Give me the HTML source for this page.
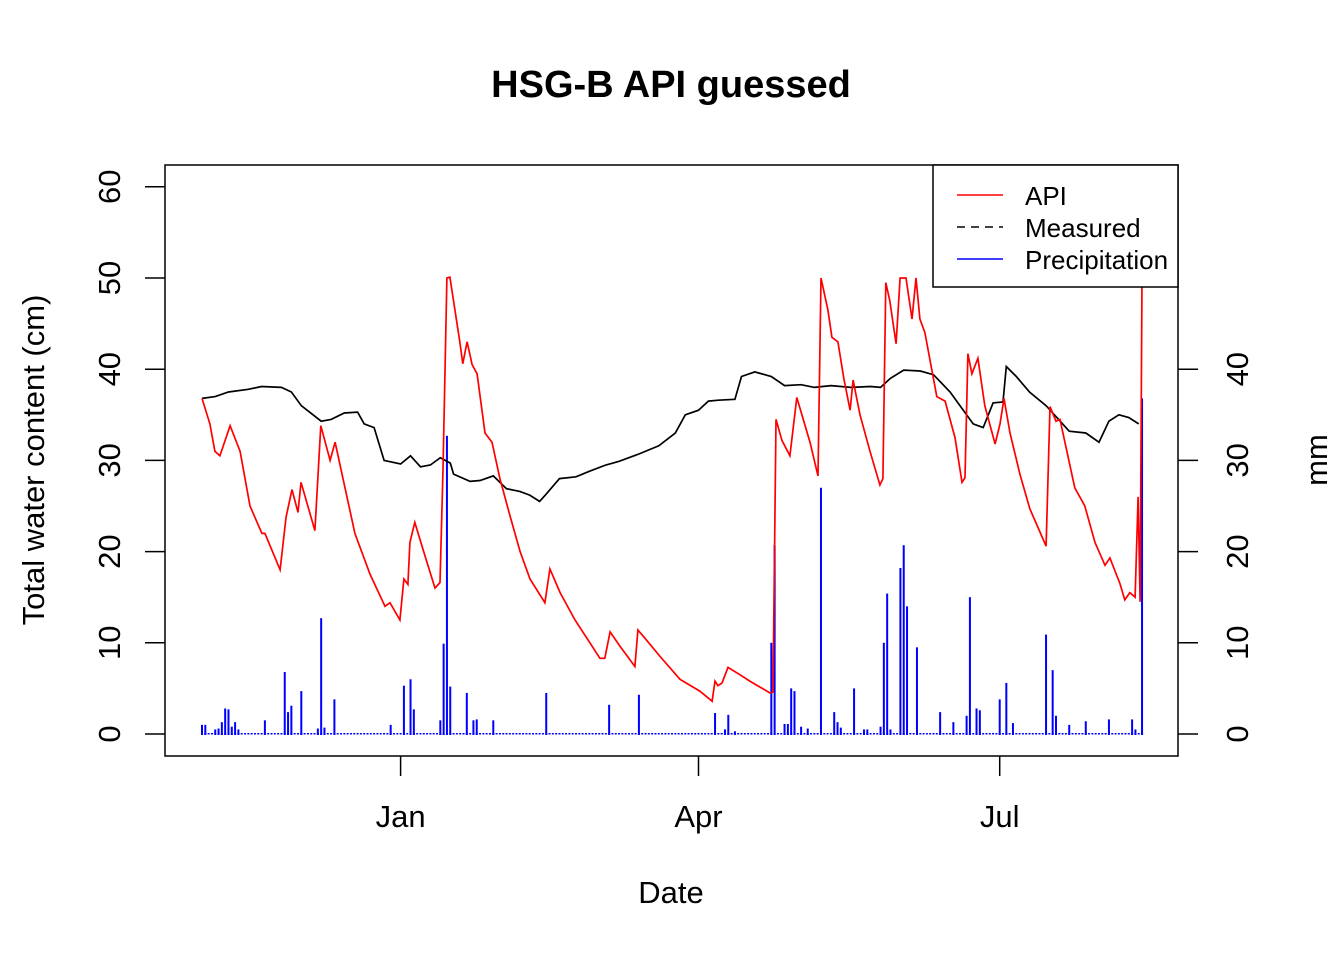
<!DOCTYPE html>
<html><head><meta charset="utf-8"><style>
body{margin:0;background:#fff}
svg text{font-family:"Liberation Sans",Arial,sans-serif}
</style></head><body>
<svg id="chart" width="1344" height="960" viewBox="0 0 1344 960" xmlns="http://www.w3.org/2000/svg">
<rect width="1344" height="960" fill="#fff"/>
<text x="671" y="97" font-size="38" font-weight="bold" text-anchor="middle">HSG-B API guessed</text>
<rect x="165" y="165" width="1013" height="591" fill="none" stroke="#000" stroke-width="1.5"/>
<g id="precip"></g>
<g id="lines"></g>
<g id="axes"></g>
<text x="671" y="903" font-size="31" text-anchor="middle">Date</text>
<text transform="translate(44,460) rotate(-90)" font-size="31" text-anchor="middle">Total water content (cm)</text>
<text transform="translate(1327,460) rotate(-90)" font-size="31" text-anchor="middle">mm</text>
<g>
<rect x="933" y="165" width="245" height="122" fill="#fff" stroke="#000" stroke-width="1.5"/>
<line x1="957" y1="195" x2="1003" y2="195" stroke="red" stroke-width="1.5"/>
<text x="1025" y="205" font-size="26">API</text>
<line x1="957" y1="227" x2="1003" y2="227" stroke="#000" stroke-width="1.5" stroke-dasharray="8,6"/>
<text x="1025" y="237" font-size="26">Measured</text>
<line x1="957" y1="259" x2="1003" y2="259" stroke="blue" stroke-width="1.5"/>
<text x="1025" y="269" font-size="26">Precipitation</text>
</g>
</svg>
<script>
const measDays=[0,4,8,14,18,24,27,30,36,39,43,47,49,52,55,60,63,66,69,72,75,76,81,84,88,92,96,99,102,104,108,113,117,122,126,132,138,143,146,150,153,156,161,163,167,172,176,181,185,190,196,202,205,208,212,217,221,226,230,233,236,239,242,243,246,250,255,258,262,267,271,274,277,280,283];
const measVals=[36.8,37.0,37.5,37.8,38.1,38.0,37.5,36,34.3,34.5,35.2,35.3,34,33.6,30,29.6,30.5,29.3,29.5,30.3,29.7,28.5,27.7,27.8,28.3,26.9,26.6,26.2,25.5,26.3,28,28.2,28.8,29.5,29.9,30.7,31.6,33,35,35.5,36.5,36.6,36.7,39.2,39.7,39.2,38.2,38.3,38.0,38.2,38.0,38.1,38.0,39,39.9,39.8,39.4,37.5,35.5,34,33.6,36.3,36.4,40.3,39.2,37.5,36,34.8,33.2,33,32,34.3,35,34.7,34];
const apiDays=[0,2.4,3.9,5.4,8.5,11.5,14.5,18.1,19.0,23.6,25.4,27.2,29.0,29.9,34.1,35.9,38.7,40.2,43.2,46.2,50.8,55.3,56.8,59.8,61.0,62.2,62.8,64.3,67.4,70.4,71.9,72.8,74.0,74.9,77.9,78.8,80.1,81.6,83.1,85.5,87.6,90.0,93.0,96.1,99.1,103.6,105.1,108.2,112.7,117.2,120.2,121.7,123.3,126.3,130.8,131.7,133.8,138.4,144.4,150.4,154.1,155.0,155.9,157.1,158.9,162.5,165.5,171.6,172.5,173.4,175.2,177.6,179.7,183.7,186.1,187.0,189.1,190.3,192.1,193.9,195.8,196.7,198.8,201.8,204.8,205.7,206.6,207.8,209.7,210.9,212.7,214.5,215.7,216.9,218.4,222.0,224.5,227.5,229.6,230.5,231.4,232.6,234.4,236.5,239.6,241.1,242.3,244.1,247.1,250.1,255.0,256.2,258.0,259.2,260.7,263.7,266.7,269.8,272.8,274.3,277.3,278.8,280.3,281.9,282.8,283.4,284.0];
const apiVals=[36.8,34,31,30.5,33.8,31,25,22,22,18,23.8,26.8,24.3,27.6,22.3,33.8,30,32,27,22,17.5,14,14.4,12.5,17,16.4,21,23.2,19.5,16,16.6,29,50,50.1,43,40.6,43,40.5,39.5,33,32,28,24,20,17,14.4,18.1,15.5,12.5,10,8.3,8.3,11.2,9.6,7.4,11.4,10.5,8.5,6,4.7,3.6,5.8,5.3,5.6,7.3,6.5,5.8,4.5,4.6,34.5,32.2,30.5,36.9,32,28.3,50,46.5,43.5,43,39,35.5,38.8,35,31,27.3,28,49.5,47.5,42.8,50,50,45.5,50,45.5,44,37,36.5,32.5,27.6,28.1,41.7,39.5,41.2,36,31.8,34,36.8,33,28.5,24.7,20.6,35.9,34.3,34.5,32,27,25,21,18.5,19.3,16.5,14.7,15.5,15,26,14.5,50];
const precDays=[0,1,4,5,6,7,8,9,10,11,19,25,26,27,30,35,36,37,40,57,61,63,64,72,73,74,75,80,82,83,88,104,123,132,155,158,159,161,172,173,176,177,178,179,181,183,187,191,192,193,197,200,201,205,206,207,208,211,212,213,216,223,227,231,232,234,235,241,243,245,255,257,258,262,267,274,281,282,284];
const precVals=[1,1,0.5,0.6,1.3,2.8,2.7,0.8,1.3,0.5,1.5,6.8,2.4,3.1,4.7,0.6,12.7,0.7,3.8,1,5.3,6,2.7,1.5,9.9,32.7,5.2,4.5,1.5,1.6,1.5,4.5,3.2,4.3,2.3,0.5,2.1,0.3,10,20.7,1.1,1.1,5,4.7,0.8,0.6,27,2.4,1.3,0.7,5,0.5,0.5,0.8,10,15.4,0.5,18.2,20.7,14,9.5,2.4,1.3,2,15,2.8,2.6,3.8,5.6,1.2,10.9,7,2,1,1.4,1.6,1.6,0.5,36.8];
const yTicks=[0,10,20,30,40,50,60];
const y2Ticks=[0,10,20,30,40];
const xTickDays=[60,150,241];
const xTickLabels=["Jan","Apr","Jul"];
const totalDays=284;

const NS="http://www.w3.org/2000/svg";
const X=d=>202+d*3.31;
const Y=v=>734-v*9.12;
function mk(tag,attrs,parent){const e=document.createElementNS(NS,tag);for(const k in attrs)e.setAttribute(k,attrs[k]);parent.appendChild(e);return e;}
const P=document.getElementById('precip'),L=document.getElementById('lines'),A=document.getElementById('axes');
for(let d=0;d<=totalDays;d++){const r=mk('rect',{x:X(d)-1,y:733,width:2,height:1.5,fill:'blue'},P);

}
precDays.forEach((d,i)=>{const r=mk('rect',{x:X(d)-1,y:Y(precVals[i]),width:2,height:734-Y(precVals[i])+1,fill:'blue'},P);

});
const pl=(ds,vs)=>ds.map((d,i)=>X(d).toFixed(1)+','+Y(vs[i]).toFixed(1)).join(' ');
const m=mk('polyline',{points:pl(measDays,measVals),fill:'none',stroke:'#000','stroke-width':1.7},L);


const a=mk('polyline',{points:pl(apiDays,apiVals),fill:'none',stroke:'red','stroke-width':1.7},L);


yTicks.forEach(v=>{const t=mk('line',{x1:145,x2:165,y1:Y(v),y2:Y(v),stroke:'#000','stroke-width':1.5},A);


const tx=mk('text',{transform:`translate(120,${Y(v)}) rotate(-90)`,'font-size':31,'text-anchor':'middle'},A);tx.textContent=v;

});
y2Ticks.forEach(v=>{const t=mk('line',{x1:1178,x2:1198,y1:Y(v),y2:Y(v),stroke:'#000','stroke-width':1.5},A);


const tx=mk('text',{transform:`translate(1248,${Y(v)}) rotate(-90)`,'font-size':31,'text-anchor':'middle'},A);tx.textContent=v;

});
xTickDays.forEach((d,i)=>{const t=mk('line',{x1:X(d),x2:X(d),y1:756,y2:776,stroke:'#000','stroke-width':1.5},A);


const tx=mk('text',{x:X(d),y:827,'font-size':31,'text-anchor':'middle'},A);tx.textContent=xTickLabels[i];

});
</script>
</body></html>
